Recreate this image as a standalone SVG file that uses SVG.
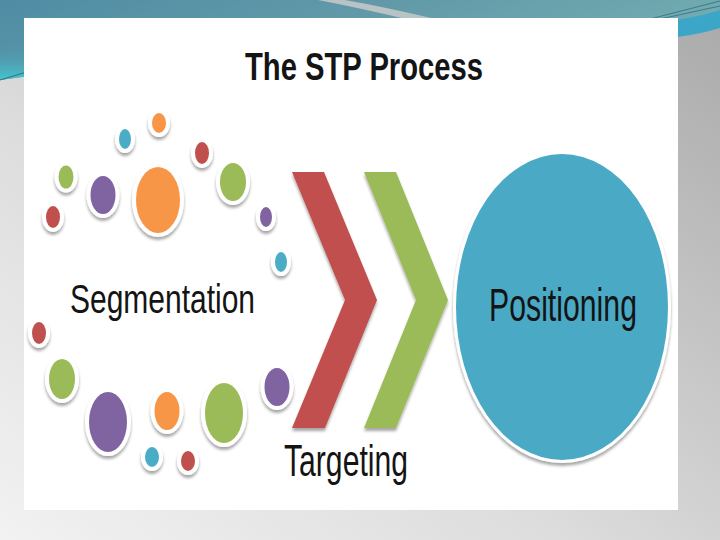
<svg xmlns="http://www.w3.org/2000/svg" width="720" height="540" viewBox="0 0 720 540">
<defs>
<linearGradient id="bgGray" x1="1" y1="0" x2="0" y2="1">
<stop offset="0" stop-color="#a9a9a9"/>
<stop offset="0.6" stop-color="#dcdcdc"/>
<stop offset="1" stop-color="#f2f2f2"/>
</linearGradient>
<linearGradient id="teal" x1="0" y1="0" x2="1" y2="0.3">
<stop offset="0" stop-color="#4f8da5"/>
<stop offset="0.5" stop-color="#6199a8"/>
<stop offset="1" stop-color="#74acb2"/>
</linearGradient>
<linearGradient id="tealLeft" x1="0" y1="0" x2="0" y2="1">
<stop offset="0" stop-color="#4f8da5" stop-opacity="0"/>
<stop offset="1" stop-color="#43c6cf"/>
</linearGradient>
<filter id="sh" x="-30%" y="-30%" width="160%" height="170%">
<feGaussianBlur in="SourceAlpha" stdDeviation="1.5"/>
<feOffset dy="2.5" result="b"/>
<feComponentTransfer><feFuncA type="linear" slope="0.35"/></feComponentTransfer>
<feMerge><feMergeNode/><feMergeNode in="SourceGraphic"/></feMerge>
</filter>
<style>
.ring{fill:#ffffff;filter:url(#sh)}
.r{fill:#c0504d}.g{fill:#9bbb59}.p{fill:#8064a2}.o{fill:#f79646}.c{fill:#4bacc6}
.lbl{font-family:"Liberation Sans",Arial,sans-serif;fill:#141414}
</style>
</defs>
<!-- background -->
<rect width="720" height="540" fill="url(#bgGray)"/>
<path d="M0,0 H720 V28 Q520,45 300,55 Q120,62 0,80 Z" fill="url(#teal)"/>
<path d="M0,40 L60,40 L60,72 L0,80 Z" fill="url(#tealLeft)"/>
<path d="M0,80 L40,68" stroke="#3a6f7c" stroke-width="1" fill="none"/>
<path d="M318,0 Q360,8 410,20 L440,20 Q380,6 345,0 Z" fill="#b9c3c5"/>
<path d="M640,24 Q690,20 720,10 V28 Q700,34 678,37 Z" fill="#3ca6c8"/>
<path d="M650,19 L720,1 M660,19 L720,6" stroke="#2f6f80" stroke-width="0.8" fill="none"/>
<!-- white panel -->
<rect x="24" y="18" width="654" height="492" fill="#ffffff"/>

<g id="title"><text class="lbl" x="245" y="80" font-size="39" font-weight="bold" textLength="238" lengthAdjust="spacingAndGlyphs">The STP Process</text></g>

<g id="segmentation-dots">
<ellipse class="ring" cx="53" cy="217" rx="11" ry="15"/><ellipse class="r" cx="53" cy="217" rx="7" ry="11"/>
<ellipse class="ring" cx="66" cy="177" rx="11.5" ry="15.5"/><ellipse class="g" cx="66" cy="177" rx="7.5" ry="11.5"/>
<ellipse class="ring" cx="103" cy="195" rx="16.5" ry="23"/><ellipse class="p" cx="103" cy="195" rx="12.5" ry="19"/>
<ellipse class="ring" cx="125" cy="139" rx="10" ry="14"/><ellipse class="c" cx="125" cy="139" rx="6" ry="10"/>
<ellipse class="ring" cx="158" cy="200" rx="26" ry="37"/><ellipse class="o" cx="158" cy="200" rx="22" ry="33"/>
<ellipse class="ring" cx="159" cy="123" rx="11" ry="14"/><ellipse class="o" cx="159" cy="123" rx="7" ry="10"/>
<ellipse class="ring" cx="202" cy="153" rx="11" ry="15"/><ellipse class="r" cx="202" cy="153" rx="7" ry="11"/>
<ellipse class="ring" cx="233" cy="182" rx="17" ry="23"/><ellipse class="g" cx="233" cy="182" rx="13" ry="19"/>
<ellipse class="ring" cx="266" cy="217" rx="10" ry="14"/><ellipse class="p" cx="266" cy="217" rx="6" ry="10"/>
<ellipse class="ring" cx="281" cy="262" rx="10" ry="14"/><ellipse class="c" cx="281" cy="262" rx="6" ry="10"/>
<ellipse class="ring" cx="39" cy="333" rx="11" ry="15"/><ellipse class="r" cx="39" cy="333" rx="7" ry="11"/>
<ellipse class="ring" cx="62" cy="379" rx="17" ry="24"/><ellipse class="g" cx="62" cy="379" rx="13" ry="20"/>
<ellipse class="ring" cx="108" cy="422" rx="23" ry="34"/><ellipse class="p" cx="108" cy="422" rx="19" ry="30"/>
<ellipse class="ring" cx="167" cy="411" rx="16.5" ry="23"/><ellipse class="o" cx="167" cy="411" rx="12.5" ry="19"/>
<ellipse class="ring" cx="152" cy="457" rx="11" ry="14"/><ellipse class="c" cx="152" cy="457" rx="7" ry="10"/>
<ellipse class="ring" cx="188" cy="461" rx="11" ry="14"/><ellipse class="r" cx="188" cy="461" rx="7" ry="10"/>
<ellipse class="ring" cx="224" cy="413" rx="23" ry="34"/><ellipse class="g" cx="224" cy="413" rx="19" ry="30"/>
<ellipse class="ring" cx="277" cy="387" rx="16.5" ry="23"/><ellipse class="p" cx="277" cy="387" rx="12.5" ry="19"/>
</g>

<g id="segmentation"><text class="lbl" x="70" y="313" font-size="41" textLength="185" lengthAdjust="spacingAndGlyphs">Segmentation</text></g>

<g id="connectors">
<polygon class="r" points="292,172 324,172 377,300 325,428 292,428 345,300" filter="url(#sh)"/>
<polygon class="g" points="364,172 396,172 448,300 396,428 364,428 416,300" filter="url(#sh)"/>
</g>

<g id="targeting"><text class="lbl" x="284" y="476" font-size="44" textLength="124" lengthAdjust="spacingAndGlyphs">Targeting</text></g>

<g id="positioning">
<ellipse class="ring" cx="562" cy="307" rx="109" ry="156"/>
<ellipse cx="562" cy="307" rx="106" ry="153" fill="#4aaac5"/>
<text class="lbl" x="489" y="321" font-size="46" textLength="148" lengthAdjust="spacingAndGlyphs">Positioning</text>
</g>
</svg>
